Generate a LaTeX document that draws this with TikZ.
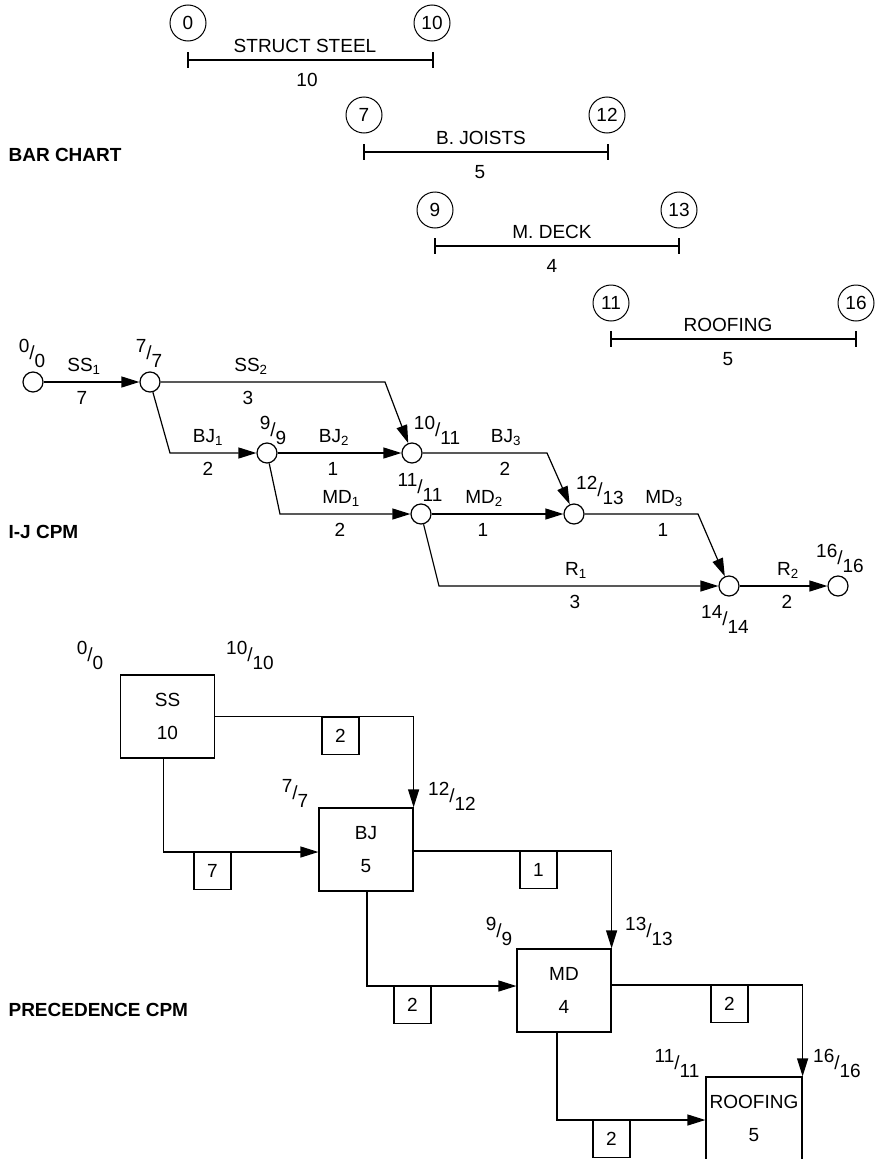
\documentclass[tikz,border=0pt]{standalone}
\usepackage{fontspec}
\setmainfont{Liberation Sans}
\usetikzlibrary{arrows.meta}
\newcommand\frlab[2]{\raisebox{7pt}{#1}/\raisebox{-8pt}{#2}}
\begin{document}
\begin{tikzpicture}[x=1pt,y=-1pt, line width=1.2pt,
  every node/.style={font=\fontsize{19}{22}\selectfont, inner sep=0pt},
  bc/.style={circle, draw, minimum size=36pt, line width=1pt},
  ev/.style={circle, draw, minimum size=20pt},
  txt/.style={anchor=base},
  title/.style={anchor=west, font=\fontsize{19}{22}\selectfont\bfseries},
  arr/.style={-{Triangle[length=18pt,width=11pt]}},
  act/.style={draw, minimum width=94pt, minimum height=83pt, align=center, font=\fontsize{19}{33}\selectfont},
  lag/.style={draw, minimum size=37pt, anchor=north},
  tick/.style={line width=1.2pt}
]
\useasboundingbox (0,0) rectangle (875,1159);

% ---------------- BAR CHART ----------------
\node[title] (t1) at (8,155) {BAR CHART};

\node[bc] (b0) at (188,23) {0};
\node[bc] (b10) at (432,23) {10};
\coordinate (s1) at (188,60); \coordinate (e1) at (433,60);
\draw (s1) -- (e1);
\draw[tick] ([yshift=8pt]s1) -- ([yshift=-8pt]s1);
\draw[tick] ([yshift=8pt]e1) -- ([yshift=-8pt]e1);
\node[txt] (ta1) at (305,52) {STRUCT STEEL};
\node[txt] (na1) at (307,86) {10};

\node[bc] (b7) at (364,115) {7};
\node[bc] (b12) at (607,115) {12};
\coordinate (s2) at (364,152); \coordinate (e2) at (608,152);
\draw (s2) -- (e2);
\draw[tick] ([yshift=8pt]s2) -- ([yshift=-8pt]s2);
\draw[tick] ([yshift=8pt]e2) -- ([yshift=-8pt]e2);
\node[txt] (ta2) at (481,144) {B. JOISTS};
\node[txt] (na2) at (480,178) {5};

\node[bc] (b9) at (435,210) {9};
\node[bc] (b13) at (679,210) {13};
\coordinate (s3) at (435,246); \coordinate (e3) at (679,246);
\draw (s3) -- (e3);
\draw[tick] ([yshift=8pt]s3) -- ([yshift=-8pt]s3);
\draw[tick] ([yshift=8pt]e3) -- ([yshift=-8pt]e3);
\node[txt] (ta3) at (552,238) {M. DECK};
\node[txt] (na3) at (552,272) {4};

\node[bc] (b11) at (611,303) {11};
\node[bc] (b16) at (856,303) {16};
\coordinate (s4) at (611,339); \coordinate (e4) at (856,339);
\draw (s4) -- (e4);
\draw[tick] ([yshift=8pt]s4) -- ([yshift=-8pt]s4);
\draw[tick] ([yshift=8pt]e4) -- ([yshift=-8pt]e4);
\node[txt] (ta4) at (728,331) {ROOFING};
\node[txt] (na4) at (728,365) {5};

% ---------------- I-J CPM ----------------
\node[title] (t2) at (8,532) {I-J CPM};

\node[ev] (n0) at (33,382) {};
\node[ev] (n7) at (150,382) {};
\node[ev] (n9) at (267,453) {};
\node[ev] (n10) at (412,453) {};
\node[ev] (n11) at (421,514) {};
\node[ev] (n12) at (574,514) {};
\node[ev] (n14) at (729,586) {};
\node[ev] (n16) at (838,586) {};

\node[txt] (f0) at (32,359) {\frlab{0}{0}};
\node[txt] (f7) at (149,359) {\frlab{7}{7}};
\node[txt] (f9) at (273,436) {\frlab{9}{9}};
\node[txt] (f10) at (437,436) {\frlab{10}{11}};
\node[txt] (f11) at (420,493) {\frlab{11}{11}};
\node[txt] (f12) at (600,496) {\frlab{12}{13}};
\node[txt] (f14) at (725,625) {\frlab{14}{14}};
\node[txt] (f16) at (840,564) {\frlab{16}{16}};

\coordinate (k1) at (385,382);
\coordinate (k2) at (170,453);
\coordinate (k3) at (280,514);
\coordinate (k4) at (547,453);
\coordinate (k5) at (439,586);
\coordinate (k6) at (698,514);

\draw[arr] (n0) -- (n7);
\draw[arr] (n7) -- (k1) -- (n10);
\draw[arr] (n7) -- (k2) -- (n9);
\draw[arr] (n9) -- (n10);
\draw[arr] (n9) -- (k3) -- (n11);
\draw[arr] (n10) -- (k4) -- (n12);
\draw[arr] (n11) -- (n12);
\draw[arr] (n11) -- (k5) -- (n14);
\draw[arr] (n12) -- (k6) -- (n14);
\draw[arr] (n14) -- (n16);

\node[txt] (lss1) at (84,371.5) {SS\textsubscript{1}};
\node[txt] (dss1) at (82,404) {7};
\node[txt] (lss2) at (251,371.5) {SS\textsubscript{2}};
\node[txt] (dss2) at (248,404) {3};
\node[txt] (lbj1) at (208,442) {BJ\textsubscript{1}};
\node[txt] (dbj1) at (208,475) {2};
\node[txt] (lbj2) at (334,442) {BJ\textsubscript{2}};
\node[txt] (dbj2) at (333,475) {1};
\node[txt] (lmd1) at (341,503) {MD\textsubscript{1}};
\node[txt] (dmd1) at (340,536) {2};
\node[txt] (lbj3) at (506,442) {BJ\textsubscript{3}};
\node[txt] (dbj3) at (505,475) {2};
\node[txt] (lmd2) at (484,503) {MD\textsubscript{2}};
\node[txt] (dmd2) at (483,536) {1};
\node[txt] (lmd3) at (664,503) {MD\textsubscript{3}};
\node[txt] (dmd3) at (663,536) {1};
\node[txt] (lr1) at (576,575) {R\textsubscript{1}};
\node[txt] (dr1) at (575,608) {3};
\node[txt] (lr2) at (788,575) {R\textsubscript{2}};
\node[txt] (dr2) at (787,608) {2};

% ---------------- PRECEDENCE CPM ----------------
\node[title] (t3) at (8,1010) {PRECEDENCE CPM};

\node[act] (SS) at (167.5,716.5) {SS\\10};
\node[act] (BJ) at (366,849.5) {BJ\\5};
\node[act] (MD) at (564,990.5) {MD\\4};
\node[act, minimum width=96pt] (RF) at (754,1118.5) {ROOFING\\5};

\node[txt] (p0) at (90,661) {\frlab{0}{0}};
\node[txt] (p10) at (250,661) {\frlab{10}{10}};
\node[txt] (p7) at (295,799) {\frlab{7}{7}};
\node[txt] (p12) at (452,802) {\frlab{12}{12}};
\node[txt] (p9) at (499,937) {\frlab{9}{9}};
\node[txt] (p13) at (649,937) {\frlab{13}{13}};
\node[txt] (p11) at (677,1069) {\frlab{11}{11}};
\node[txt] (p16) at (837,1069) {\frlab{16}{16}};

\draw[arr] (SS.east) -| (BJ.north east);
\draw[arr] ([xshift=-4pt]SS.south) |- ([yshift=-2.5pt]BJ.west);
\draw[arr] ([yshift=-1.5pt]BJ.east) -| (MD.north east);
\draw[arr] ([xshift=1pt]BJ.south) |- ([yshift=4.5pt]MD.west);
\draw[arr] ([yshift=5.5pt]MD.east) -| (RF.north east);
\draw[arr] ([xshift=-7pt]MD.south) |- ([yshift=-1.5pt]RF.west);

\node[lag] (g1) at (340.5,717) {2};
\node[lag] (g2) at (212.5,852) {7};
\node[lag] (g3) at (538.5,851) {1};
\node[lag] (g4) at (412.5,986) {2};
\node[lag] (g5) at (729.5,985) {2};
\node[lag] (g6) at (611.5,1120) {2};
\end{tikzpicture}
\end{document}
